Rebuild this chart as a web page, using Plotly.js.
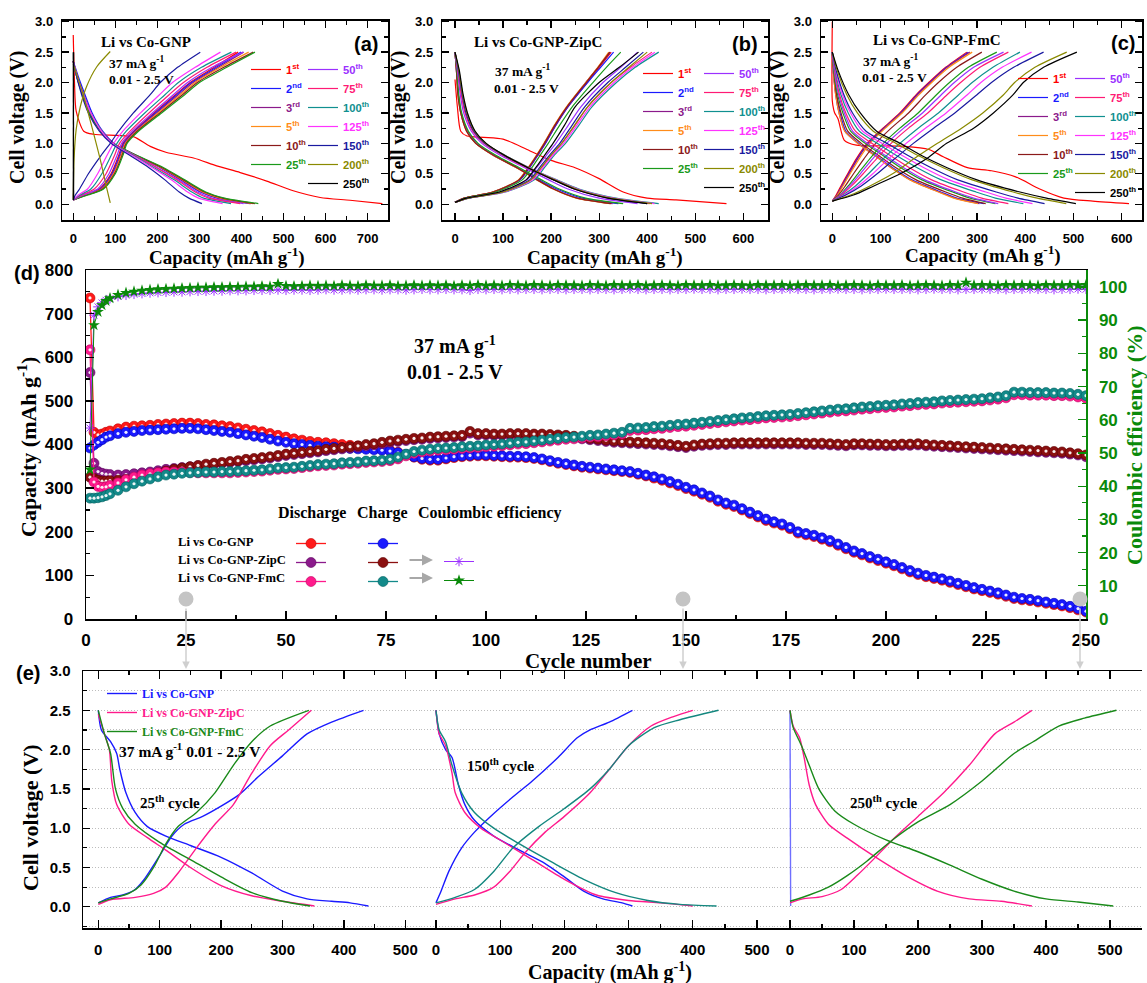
<!DOCTYPE html>
<html><head><meta charset="utf-8">
<script src="https://cdn.plot.ly/plotly-3.0.1.min.js"></script>
<style>html,body{margin:0;padding:0;background:#fff}#chart{width:1147px;height:983px}</style>
</head><body><div id="chart"></div>
<script>
// ---------------- DATA ----------------
const cycleNames = ['1<sup>st</sup>','2<sup>nd</sup>','3<sup>rd</sup>','5<sup>th</sup>','10<sup>th</sup>','25<sup>th</sup>','50<sup>th</sup>','75<sup>th</sup>','100<sup>th</sup>','125<sup>th</sup>','150<sup>th</sup>','200<sup>th</sup>','250<sup>th</sup>'];

// Panel (a) Li vs Co-GNP
const aDisGrid = [2.35, 2.1, 1.8, 1.5, 1.2, 1.0, 0.8, 0.6, 0.4, 0.2, 0.1, 0.01];
const aChgGrid = [0.07, 0.15, 0.25, 0.5, 0.8, 1.0, 1.2, 1.5, 1.8, 2.0, 2.25, 2.5];
const a1DisV = [2.78, 2.0, 1.53, 1.2, 1.15, 1.13, 1.11, 0.95, 0.85, 0.76, 0.63, 0.52, 0.38, 0.22, 0.11, 0.065, 0.01];
const a200DisV = [2.3, 2.2, 1.95, 1.77, 1.28, 0.74, 0.25, 0.02];
const a200ChgV = [0.08, 0.74, 1.23, 1.61, 1.94, 2.26, 2.51];
const a250DisV = [2.5, 0.07];
const a250ChgV = [0.07, 2.5];
const aDisCap = [
  [0, 3, 7, 25, 48, 104, 143, 183, 222, 286, 341, 397, 460, 523, 587, 658, 735],
  [0, 12, 28, 45, 70, 97, 150, 207, 255, 302, 342, 420],
  [0, 10, 25, 42, 68, 96, 150, 208, 257, 305, 345, 423],
  [0, 9, 23, 40, 67, 95, 150, 210, 260, 308, 350, 428],
  [0, 8, 22, 38, 65, 94, 150, 212, 262, 312, 355, 432],
  [0, 8, 22, 38, 66, 95, 152, 215, 265, 315, 360, 440],
  [0, 9, 24, 42, 68, 94, 147, 200, 250, 295, 330, 405],
  [0, 9, 24, 42, 68, 94, 146, 198, 246, 290, 322, 397],
  [0, 9, 24, 42, 68, 93, 143, 192, 240, 282, 310, 375],
  [0, 9, 24, 42, 67, 92, 140, 188, 233, 272, 298, 355],
  [0, 8, 20, 36, 62, 90, 135, 180, 218, 252, 275, 306],
  [0, 5, 17, 25, 44, 64, 80, 88],
  [0, 1]
];
const aChgCap = [
  [0, 25, 62, 90, 108, 118, 144, 192, 243, 278, 335, 392],
  [0, 27, 64, 92, 110, 120, 146, 195, 246, 281, 340, 399],
  [0, 28, 66, 94, 112, 122, 148, 198, 250, 285, 345, 405],
  [0, 30, 68, 96, 114, 124, 150, 202, 255, 290, 350, 417],
  [0, 32, 70, 98, 116, 126, 152, 206, 260, 295, 358, 428],
  [0, 35, 72, 100, 118, 128, 155, 210, 265, 300, 365, 432],
  [0, 24, 58, 85, 104, 115, 140, 188, 238, 272, 330, 404],
  [0, 20, 50, 78, 98, 110, 135, 180, 228, 262, 318, 387],
  [0, 16, 42, 68, 90, 104, 126, 170, 218, 250, 305, 376],
  [0, 12, 34, 58, 80, 96, 118, 160, 205, 236, 290, 350],
  [0, 5, 15, 36, 66, 88, 108, 143, 183, 207, 248, 302],
  [0, 2, 7, 17, 32, 56, 88],
  [0, 1]
];

// Panel (b) Li vs Co-GNP-ZipC
const bDisGrid = [2.5, 2.2, 1.8, 1.5, 1.2, 1.0, 0.8, 0.6, 0.4, 0.25, 0.1, 0.01];
const bChgGrid = [0.03, 0.1, 0.2, 0.4, 0.6, 0.8, 1.0, 1.3, 1.6, 2.0, 2.25, 2.5];
const b1DisV = [2.05, 1.6, 1.2, 1.12, 1.1, 1.07, 0.9, 0.72, 0.6, 0.42, 0.2, 0.1, 0.07, 0.01];
const bDisCap = [
  [0, 5, 12, 25, 60, 100, 150, 200, 250, 300, 350, 400, 460, 565],
  [0, 3, 7, 13, 26, 45, 82, 130, 175, 212, 265, 340],
  [0, 3, 7, 12, 25, 44, 80, 128, 172, 206, 255, 328],
  [0, 3, 6, 12, 24, 43, 80, 128, 170, 204, 252, 323],
  [0, 3, 6, 12, 24, 43, 81, 129, 171, 205, 254, 325],
  [0, 4, 8, 14, 28, 48, 86, 134, 180, 217, 272, 350],
  [0, 5, 11, 18, 34, 56, 95, 145, 195, 235, 300, 380],
  [0, 6, 13, 21, 37, 60, 100, 150, 205, 248, 320, 405],
  [0, 7, 15, 24, 40, 63, 105, 155, 212, 258, 335, 424],
  [0, 7, 15, 24, 40, 63, 104, 154, 210, 255, 330, 415],
  [0, 7, 15, 23, 39, 62, 102, 152, 206, 250, 320, 400],
  [0, 8, 16, 25, 41, 64, 104, 153, 208, 252, 325, 410],
  [0, 9, 17, 26, 42, 65, 104, 152, 205, 248, 318, 400]
];
const bChgCap = [
  [0, 20, 80, 135, 155, 172, 188, 210, 235, 275, 300, 325],
  [0, 20, 80, 135, 155, 172, 188, 210, 235, 276, 303, 330],
  [0, 19, 78, 133, 153, 170, 186, 208, 233, 272, 298, 323],
  [0, 19, 78, 132, 152, 169, 185, 207, 232, 272, 297, 320],
  [0, 19, 79, 133, 153, 170, 186, 208, 233, 273, 298, 322],
  [0, 22, 85, 140, 160, 177, 194, 218, 244, 287, 315, 345],
  [0, 25, 95, 150, 170, 190, 210, 236, 262, 308, 345, 380],
  [0, 28, 100, 158, 180, 200, 222, 250, 276, 325, 365, 410],
  [0, 30, 105, 165, 186, 206, 230, 258, 285, 336, 375, 424],
  [0, 29, 103, 162, 183, 203, 226, 254, 281, 331, 370, 416],
  [0, 27, 98, 155, 176, 196, 218, 244, 270, 318, 355, 392],
  [0, 28, 100, 158, 179, 199, 222, 249, 276, 325, 362, 400],
  [0, 24, 92, 148, 168, 186, 204, 228, 250, 300, 342, 382]
];

// Panel (c) Li vs Co-GNP-FmC
const cDisGrid = [2.5, 2.2, 1.8, 1.5, 1.2, 1.0, 0.8, 0.6, 0.4, 0.2, 0.1, 0.01];
const cChgGrid = [0.05, 0.15, 0.3, 0.5, 0.75, 1.0, 1.25, 1.5, 1.8, 2.0, 2.25, 2.5];
const c1DisV = [3.0, 1.7, 1.55, 1.5, 1.4, 1.05, 0.97, 0.96, 0.95, 0.9, 0.78, 0.6, 0.55, 0.45, 0.25, 0.1, 0.05, 0.01];
const cDisCap = [
  [0, 0, 3, 5, 12, 25, 50, 100, 150, 200, 230, 280, 330, 380, 430, 480, 540, 615],
  [0, 2, 8, 16, 28, 55, 90, 125, 165, 225, 258, 314],
  [0, 2, 7, 14, 26, 53, 88, 122, 162, 222, 255, 305],
  [0, 2, 7, 14, 26, 53, 88, 122, 161, 220, 252, 302],
  [0, 3, 9, 18, 32, 60, 96, 132, 174, 235, 270, 318],
  [0, 3, 11, 22, 38, 68, 105, 142, 186, 250, 286, 338],
  [0, 4, 13, 25, 42, 73, 110, 148, 192, 256, 293, 344],
  [0, 5, 15, 28, 48, 82, 120, 160, 206, 272, 310, 365],
  [0, 6, 18, 33, 56, 93, 133, 176, 226, 298, 338, 396],
  [0, 7, 21, 38, 63, 103, 145, 190, 242, 318, 360, 415],
  [0, 8, 24, 42, 70, 113, 157, 205, 260, 340, 385, 440],
  [0, 10, 30, 52, 85, 132, 178, 230, 290, 375, 425, 485],
  [0, 12, 34, 58, 92, 141, 185, 238, 300, 389, 444, 505]
];
const cChgCap = [
  [0, 8, 18, 32, 50, 72, 105, 140, 174, 200, 235, 279],
  [0, 10, 20, 34, 52, 74, 107, 142, 176, 202, 237, 282],
  [0, 10, 21, 35, 53, 75, 108, 143, 177, 203, 238, 285],
  [0, 11, 22, 37, 56, 78, 110, 145, 180, 206, 242, 290],
  [0, 13, 27, 44, 66, 90, 122, 158, 194, 220, 258, 310],
  [0, 16, 33, 53, 78, 106, 140, 178, 216, 243, 282, 341],
  [0, 17, 36, 58, 84, 113, 148, 187, 226, 253, 293, 355],
  [0, 19, 40, 64, 92, 122, 158, 198, 238, 266, 306, 365],
  [0, 22, 48, 75, 106, 140, 178, 220, 262, 290, 333, 389],
  [0, 25, 54, 84, 117, 153, 193, 236, 280, 308, 352, 413],
  [0, 28, 60, 93, 130, 168, 210, 254, 300, 330, 376, 438],
  [0, 38, 78, 125, 170, 218, 268, 312, 355, 378, 420, 486],
  [0, 44, 86, 141, 196, 237, 293, 334, 375, 396, 438, 507]
];

// Panel (d) cycling
const cyc = [1,2,3,4,5,6,8,10,12,14,16,18,20,22,24,26,28,30,32,34,36,38,40,42,44,46,48,50,52,54,56,58,60,62,64,66,68,70,72,74,76,78,80,82,84,86,88,90,92,94,96,98,100,102,104,106,108,110,112,114,116,118,120,122,124,126,128,130,132,134,136,138,140,142,144,146,148,150,152,154,156,158,160,162,164,166,168,170,172,174,176,178,180,182,184,186,188,190,192,194,196,198,200,202,204,206,208,210,212,214,216,218,220,222,224,226,228,230,232,234,236,238,240,242,244,246,248,250];
const gnpDischarge = [736,428,422,424,428,431,
 436,440,442,443,444,446,447,448,449,449,
 448,446,445,443,441,438,435,432,429,425,
 421,417,413,410,407,405,404,402,400,398,
 396,394,392,390,387,382,377,371,366,364,
 364,367,370,372,373,374,374,373,372,371,
 371,370,368,365,361,357,354,351,348,346,
 344,342,340,338,336,332,328,323,318,312,
 306,299,293,286,279,270,263,258,250,242,
 234,226,220,215,207,197,193,189,183,177,
 169,161,153,147,140,134,128,122,115,108,
 102,97,93,89,84,79,74,69,65,61,
 57,52,47,44,42,39,36,33,30,26,
 21,16];
const gnpCharge = [392,399,405,411,417,420,
 425,428,430,432,433,434,435,436,437,437,
 436,434,432,430,428,425,422,419,416,412,
 408,405,402,400,398,396,395,394,392,391,
 390,389,388,387,385,381,377,372,368,366,
 366,369,372,374,375,376,376,375,374,373,
 373,372,370,367,363,359,356,353,350,348,
 346,344,342,340,338,334,330,326,321,315,
 309,302,296,289,282,273,266,261,253,245,
 237,229,223,218,210,200,196,192,186,180,
 172,164,156,150,143,137,131,125,118,111,
 105,100,96,92,87,82,77,72,68,64,
 60,55,50,47,45,42,39,36,33,29,
 24,18];
const zipDischarge = [565,357,338,334,332,331,
 330,331,333,335,337,340,343,345,347,349,
 351,353,355,357,359,361,363,365,367,369,
 372,375,377,379,381,383,386,388,390,392,
 394,397,399,402,405,407,409,411,412,414,
 415,416,417,418,426,422,422,421,421,422,
 422,422,421,421,420,419,418,416,413,411,
 409,407,405,404,403,402,401,400,399,397,
 395,393,396,398,399,400,400,401,401,401,
 401,401,401,401,401,401,400,400,400,399,
 398,397,399,399,398,398,397,397,398,398,
 399,397,396,395,394,393,392,391,390,389,
 388,387,386,385,384,383,382,381,380,378,
 376,372];
const zipCharge = [325,322,318,316,316,317,
 318,320,323,327,331,335,339,343,346,349,
 352,355,357,359,361,363,366,368,370,372,
 375,378,380,382,384,386,389,391,393,395,
 397,400,402,405,408,410,412,414,415,417,
 418,419,420,421,430,425,425,424,424,425,
 425,425,424,424,423,422,421,419,416,414,
 412,410,408,407,406,405,404,403,402,400,
 398,396,399,401,402,403,403,404,404,404,
 404,404,404,404,404,404,403,403,403,402,
 401,400,402,402,401,401,400,400,401,401,
 402,400,399,398,397,396,395,394,393,392,
 391,390,389,388,387,386,385,384,383,381,
 379,376];
const fmcDischarge = [617,314,304,302,303,306,
 312,319,325,330,333,335,337,337,337,336,
 335,335,335,335,335,336,337,338,339,341,
 343,344,345,347,349,351,352,353,355,356,
 357,359,360,361,363,367,374,380,383,385,
 387,388,389,391,392,393,395,396,397,399,
 401,402,404,406,408,410,412,413,415,417,
 418,420,422,424,432,433,434,436,437,439,
 441,442,444,446,448,450,452,454,456,457,
 459,461,462,463,464,466,468,470,472,474,
 476,477,479,481,482,484,485,486,488,489,
 491,492,493,495,496,497,498,499,500,502,
 504,507,514,514,513,513,513,512,512,511,
 509,506];
const fmcCharge = [277,277,278,280,283,287,
 295,303,310,316,321,326,330,332,334,335,
 336,337,337,338,338,339,340,341,342,344,
 346,347,348,350,352,354,355,356,358,359,
 360,362,363,364,366,371,378,384,387,389,
 391,392,393,395,396,397,399,400,401,403,
 405,406,408,410,412,414,416,417,419,421,
 422,424,426,428,437,438,439,441,442,444,
 446,447,449,451,453,455,457,459,461,462,
 464,466,467,468,469,471,473,475,477,479,
 481,482,484,486,487,489,490,491,493,494,
 496,497,498,500,501,502,503,504,505,507,
 509,512,520,520,519,519,519,518,518,517,
 515,512];
const zipCE = [57.5,91.5,94.0,95.2,96.0,96.5,
 97.1,97.5,97.8,98.0,98.2,98.3,98.4,98.5,98.5,98.6,
 98.7,98.7,98.8,98.8,98.9,98.9,98.9,99.0,99.0,99.0,
 99.1,99.0,99.1,99.1,99.0,99.1,99.2,99.1,99.1,99.2,
 99.1,99.2,99.2,99.1,99.2,99.2,99.1,99.2,99.3,99.2,
 99.2,99.3,99.2,99.2,99.0,99.3,99.2,99.3,99.2,99.3,
 99.2,99.3,99.3,99.2,99.3,99.3,99.2,99.3,99.3,99.2,
 99.3,99.3,99.2,99.3,99.4,99.3,99.2,99.3,99.3,99.2,
 99.3,99.3,99.4,99.3,99.3,99.2,99.3,99.3,99.4,99.3,
 99.3,99.2,99.3,99.3,99.4,99.3,99.3,99.2,99.3,99.3,
 99.4,99.3,99.3,99.2,99.3,99.3,99.4,99.3,99.3,99.3,
 99.2,99.3,99.4,99.3,99.3,99.2,99.3,99.3,99.4,99.3,
 99.3,99.2,99.3,99.3,99.4,99.3,99.3,99.2,99.3,99.3,
 99.4,99.3];
const fmcCE = [45.0,88.5,92.5,94.5,95.8,96.6,
 97.6,98.2,98.6,98.9,99.1,99.3,99.4,99.5,99.6,99.7,
 99.8,99.8,99.9,99.9,100.0,100.0,100.1,100.1,100.2,100.1,
 100.9,100.3,100.2,100.3,100.4,100.3,100.4,100.3,100.5,100.4,
 100.3,100.5,100.4,100.4,100.5,100.3,100.4,100.5,100.4,100.5,
 100.4,100.5,100.3,100.5,100.4,100.6,100.4,100.5,100.4,100.6,
 100.5,100.4,100.6,100.5,100.4,100.6,100.5,100.5,100.4,100.6,
 100.5,100.4,100.6,100.5,100.5,100.6,100.4,100.5,100.6,100.5,
 100.4,100.6,100.5,100.5,100.6,100.4,100.5,100.6,100.5,100.4,
 100.6,100.5,100.5,100.6,100.4,100.5,100.6,100.5,100.5,100.6,
 100.4,100.5,100.6,100.5,100.4,100.6,100.5,100.5,100.6,100.4,
 100.5,100.6,100.5,100.4,100.6,100.5,101.3,100.5,100.6,100.5,
 100.4,100.6,100.5,100.6,100.5,100.4,100.6,100.5,100.5,100.6,
 100.5,100.6];

// Panel (e) selected cycles: capacity / voltage pairs
const e25GnpDisC = [0, 5, 20, 30, 35, 45, 60, 80, 110, 150, 200, 250, 300, 340, 380, 410, 440];
const e25GnpDisV = [2.5, 2.25, 2.1, 1.95, 1.75, 1.45, 1.2, 1.02, 0.9, 0.78, 0.63, 0.43, 0.2, 0.1, 0.07, 0.05, 0.01];
const e25GnpChgC = [0, 20, 40, 60, 75, 100, 120, 140, 170, 200, 230, 260, 300, 340, 380, 432];
const e25GnpChgV = [0.05, 0.12, 0.15, 0.22, 0.35, 0.65, 0.9, 1.05, 1.15, 1.28, 1.43, 1.65, 1.92, 2.2, 2.35, 2.5];
const e25ZipDisC = [0, 10, 18, 22, 30, 50, 80, 110, 150, 200, 250, 300, 352];
const e25ZipDisV = [2.45, 2.2, 2.0, 1.6, 1.3, 1.05, 0.88, 0.72, 0.5, 0.27, 0.14, 0.07, 0.01];
const e25ZipChgC = [0, 20, 60, 90, 110, 130, 160, 190, 220, 250, 280, 310, 347];
const e25ZipChgV = [0.03, 0.09, 0.12, 0.17, 0.25, 0.43, 0.75, 1.05, 1.3, 1.7, 2.05, 2.25, 2.5];
const e25FmcDisC = [0, 10, 20, 28, 40, 60, 100, 150, 200, 250, 300, 345];
const e25FmcDisV = [2.5, 2.2, 1.95, 1.5, 1.25, 1.05, 0.82, 0.6, 0.38, 0.18, 0.07, 0.01];
const e25FmcChgC = [0, 20, 50, 70, 90, 110, 130, 160, 190, 220, 250, 280, 343];
const e25FmcChgV = [0.05, 0.1, 0.17, 0.28, 0.5, 0.8, 1.02, 1.2, 1.45, 1.8, 2.1, 2.3, 2.5];

const e150GnpDisC = [0, 5, 15, 25, 35, 45, 60, 90, 130, 170, 200, 230, 260, 290, 306];
const e150GnpDisV = [2.5, 2.2, 2.0, 1.9, 1.55, 1.3, 1.1, 0.9, 0.72, 0.55, 0.38, 0.2, 0.1, 0.05, 0.01];
const e150GnpChgC = [0, 8, 20, 40, 60, 85, 120, 150, 190, 220, 240, 270, 306];
const e150GnpChgV = [0.05, 0.2, 0.45, 0.75, 0.95, 1.15, 1.4, 1.6, 1.9, 2.15, 2.25, 2.35, 2.5];
const e150ZipDisC = [0, 5, 15, 25, 30, 45, 70, 100, 150, 200, 250, 300, 350, 400];
const e150ZipDisV = [2.5, 2.2, 2.05, 1.7, 1.45, 1.2, 1.0, 0.85, 0.6, 0.35, 0.15, 0.08, 0.05, 0.01];
const e150ZipChgC = [0, 30, 60, 90, 115, 140, 170, 200, 240, 270, 300, 335, 370, 400];
const e150ZipChgV = [0.03, 0.1, 0.15, 0.25, 0.45, 0.7, 0.95, 1.15, 1.45, 1.75, 2.05, 2.3, 2.42, 2.5];
const e150FmcDisC = [0, 5, 15, 25, 40, 60, 90, 130, 180, 230, 280, 330, 380, 437];
const e150FmcDisV = [2.5, 2.25, 2.1, 1.8, 1.45, 1.2, 1.0, 0.8, 0.57, 0.35, 0.18, 0.08, 0.03, 0.01];
const e150FmcChgC = [0, 30, 60, 90, 120, 160, 200, 240, 270, 300, 340, 380, 440];
const e150FmcChgV = [0.05, 0.12, 0.22, 0.45, 0.75, 1.02, 1.25, 1.5, 1.75, 2.05, 2.28, 2.38, 2.5];

const e250GnpDisC = [0, 1];
const e250GnpDisV = [2.5, 0.01];
const e250ZipDisC = [0, 5, 15, 22, 30, 40, 60, 90, 130, 180, 230, 280, 330, 378];
const e250ZipDisV = [2.5, 2.3, 2.15, 1.9, 1.55, 1.3, 1.05, 0.87, 0.65, 0.4, 0.2, 0.1, 0.07, 0.01];
const e250ZipChgC = [0, 20, 50, 80, 105, 130, 160, 200, 240, 280, 320, 350, 378];
const e250ZipChgV = [0.05, 0.1, 0.13, 0.22, 0.4, 0.6, 0.85, 1.15, 1.45, 1.8, 2.2, 2.35, 2.5];
const e250FmcDisC = [0, 5, 18, 30, 45, 70, 100, 150, 200, 250, 300, 350, 400, 450, 505];
const e250FmcDisV = [2.5, 2.28, 2.05, 1.8, 1.5, 1.22, 1.05, 0.85, 0.7, 0.53, 0.35, 0.2, 0.1, 0.06, 0.01];
const e250FmcChgC = [0, 30, 60, 90, 120, 160, 200, 250, 300, 350, 380, 420, 460, 510];
const e250FmcChgV = [0.07, 0.15, 0.25, 0.4, 0.58, 0.85, 1.08, 1.3, 1.6, 1.95, 2.1, 2.3, 2.4, 2.5];

// ---------------- STYLE ----------------
const W = 1147, H = 983;
const SERIF = '"Liberation Serif","Times New Roman",serif';
const SANS = '"Liberation Sans",Arial,sans-serif';
const cycleColors = ['#ff0000','#1a1aff','#8b1a8b','#ff8c1a','#8b1a1a','#1a9a1a','#9b30ff','#ff1a75','#109090','#ff33ff','#1a1aa0','#8a8a00','#000000'];
const PX = x => x / W, PY = y => 1 - y / H;

const traces = [];

function cyclePanel(xa, ya, disCap, disV, chgCap, chgV, leg1, leg2) {
  for (let i = 0; i < 13; i++) {
    traces.push({x: disCap[i], y: disV[i], xaxis: xa, yaxis: ya, mode: 'lines',
      line: {color: cycleColors[i], width: 1.2, shape: 'spline', smoothing: 0.7},
      name: '<span style="color:' + cycleColors[i] + '">' + cycleNames[i] + '</span>',
      legend: i < 6 ? leg1 : leg2, showlegend: true, hoverinfo: 'skip'});
    traces.push({x: chgCap[i], y: chgV[i], xaxis: xa, yaxis: ya, mode: 'lines',
      line: {color: cycleColors[i], width: 1.2, shape: 'spline', smoothing: 0.7},
      showlegend: false, hoverinfo: 'skip'});
  }
}
cyclePanel('x', 'y', aDisCap,
  [a1DisV, aDisGrid, aDisGrid, aDisGrid, aDisGrid, aDisGrid, aDisGrid, aDisGrid, aDisGrid, aDisGrid, aDisGrid, a200DisV, a250DisV],
  aChgCap,
  [aChgGrid, aChgGrid, aChgGrid, aChgGrid, aChgGrid, aChgGrid, aChgGrid, aChgGrid, aChgGrid, aChgGrid, aChgGrid, a200ChgV, a250ChgV],
  'legend', 'legend2');
cyclePanel('x2', 'y2', bDisCap,
  [b1DisV].concat(Array(12).fill(bDisGrid)), bChgCap, Array(13).fill(bChgGrid), 'legend3', 'legend4');
cyclePanel('x3', 'y3', cDisCap,
  [c1DisV].concat(Array(12).fill(cDisGrid)), cChgCap, Array(13).fill(cChgGrid), 'legend5', 'legend6');

// Panel (d)
function sphere(y, color, edge, legend, rank) {
  traces.push({x: cyc, y: y, xaxis: 'x4', yaxis: 'y4', mode: 'lines+markers',
    line: {color: color, width: 1.3},
    marker: {symbol: 'circle', size: 10, color: color, line: {color: edge, width: 0.6}},
    name: '', legend: legend, legendrank: rank, showlegend: true, hoverinfo: 'skip'});
  traces.push({x: cyc, y: y, xaxis: 'x4', yaxis: 'y4', mode: 'markers',
    marker: {symbol: 'circle', size: 3.2, color: 'rgba(255,255,255,0.92)'},
    showlegend: false, hoverinfo: 'skip'});
}
sphere(gnpDischarge, '#ff1a1a', '#c00000', 'legend7', 1);
sphere(gnpCharge, '#1a1aff', '#0000b0', 'legend8', 1);
sphere(zipDischarge, '#8b1a8b', '#5a005a', 'legend7', 2);
sphere(zipCharge, '#8b1010', '#5a0000', 'legend8', 2);
sphere(fmcDischarge, '#ff1a8c', '#c00060', 'legend7', 3);
sphere(fmcCharge, '#138a8a', '#006060', 'legend8', 3);
traces.push({x: cyc, y: zipCE, xaxis: 'x4', yaxis: 'y5', mode: 'lines+markers',
  line: {color: '#9b30ff', width: 1},
  marker: {symbol: 'asterisk-open', size: 8, color: '#9b30ff', line: {color: '#9b30ff', width: 1}},
  name: '', legend: 'legend9', legendrank: 1, showlegend: true, hoverinfo: 'skip'});
traces.push({x: cyc, y: fmcCE, xaxis: 'x4', yaxis: 'y5', mode: 'lines+markers',
  line: {color: '#0a8a0a', width: 1},
  marker: {symbol: 'star', size: 9, color: '#0a8a0a'},
  name: '', legend: 'legend9', legendrank: 2, showlegend: true, hoverinfo: 'skip'});

// Panel (e)
const eBlue = '#1a1aff', ePink = '#ff1a8c', eGreen = '#1a8a1a', eTeal = '#14877f';
function eLine(xa, c, v, color, leg, name, rank) {
  const t = {x: c, y: v, xaxis: xa, yaxis: 'y6', mode: 'lines',
    line: {color: color, width: 1.4, shape: 'spline', smoothing: 0.7}, hoverinfo: 'skip', showlegend: false};
  if (leg) { t.showlegend = true; t.legend = 'legend10'; t.name = name; t.legendrank = rank; }
  traces.push(t);
}
eLine('x5', e25GnpDisC, e25GnpDisV, eBlue, true, '<span style="color:#1a1aff">Li vs Co-GNP</span>', 1);
eLine('x5', e25GnpChgC, e25GnpChgV, eBlue);
eLine('x5', e25ZipDisC, e25ZipDisV, ePink, true, '<span style="color:#ff1a8c">Li vs Co-GNP-ZipC</span>', 2);
eLine('x5', e25ZipChgC, e25ZipChgV, ePink);
eLine('x5', e25FmcDisC, e25FmcDisV, eGreen, true, '<span style="color:#1a8a1a">Li vs Co-GNP-FmC</span>', 3);
eLine('x5', e25FmcChgC, e25FmcChgV, eGreen);
eLine('x6', e150GnpDisC, e150GnpDisV, eBlue);
eLine('x6', e150GnpChgC, e150GnpChgV, eBlue);
eLine('x6', e150ZipDisC, e150ZipDisV, ePink);
eLine('x6', e150ZipChgC, e150ZipChgV, ePink);
eLine('x6', e150FmcDisC, e150FmcDisV, eTeal);
eLine('x6', e150FmcChgC, e150FmcChgV, eTeal);
eLine('x7', e250GnpDisC, e250GnpDisV, '#6f6fff');
eLine('x7', e250ZipDisC, e250ZipDisV, ePink);
eLine('x7', e250ZipChgC, e250ZipChgV, ePink);
eLine('x7', e250FmcDisC, e250FmcDisV, eGreen);
eLine('x7', e250FmcChgC, e250FmcChgV, eGreen);

// ---------------- AXES ----------------
function tf(size, color) { return {family: SANS, size: size, color: color || '#000', weight: 'bold'}; }
function axis(o) {
  return Object.assign({showline: true, linecolor: '#000', linewidth: 1.5, ticks: 'inside', ticklen: 7,
    tickwidth: 1.3, tickcolor: '#000', showgrid: false, zeroline: false,
    tickprefix: '<b>', ticksuffix: '</b>', tickfont: tf(13)}, o);
}
const mn = (d, c) => ({ticks: 'inside', ticklen: 4, tickwidth: 1.2, tickcolor: c || '#000', dtick: d, showgrid: false});
const yTop = [PY(220), PY(20.5)];
const gridDots = {showgrid: true, gridcolor: '#bdbdbd', griddash: '1px,2px', gridwidth: 1};

const layout = {
  width: W, height: H, margin: {l: 0, r: 0, t: 0, b: 0, autoexpand: false},
  paper_bgcolor: '#fff', plot_bgcolor: 'rgba(0,0,0,0)', showlegend: true,
  xaxis: axis({domain: [PX(62.3), PX(388.3)], range: [-26, 749], dtick: 100, tick0: 0, mirror: 'ticks', minor: mn(50), anchor: 'y', ticklabelstandoff: 6}),
  yaxis: axis({domain: yTop, range: [-0.26, 3.02], dtick: 0.5, tick0: 0, tickformat: '.1f', mirror: 'ticks', minor: mn(0.25), anchor: 'x', ticklabelstandoff: 5}),
  xaxis2: axis({domain: [PX(442.3), PX(768.3)], range: [-26.4, 652], dtick: 100, tick0: 0, mirror: 'ticks', minor: mn(50), anchor: 'y2', ticklabelstandoff: 6}),
  yaxis2: axis({domain: yTop, range: [-0.26, 3.02], dtick: 0.5, tick0: 0, tickformat: '.1f', mirror: 'ticks', minor: mn(0.25), anchor: 'x2', ticklabelstandoff: 5}),
  xaxis3: axis({domain: [PX(821), PX(1142)], range: [-23.4, 642], dtick: 100, tick0: 0, mirror: 'ticks', minor: mn(50), anchor: 'y3', ticklabelstandoff: 6}),
  yaxis3: axis({domain: yTop, range: [-0.26, 3.02], dtick: 0.5, tick0: 0, tickformat: '.1f', mirror: 'ticks', minor: mn(0.25), anchor: 'x3', ticklabelstandoff: 5}),
  xaxis4: axis({domain: [PX(86), PX(1086)], range: [0, 250], dtick: 25, tick0: 0, mirror: true, ticklen: 8, anchor: 'y4',
    minor: mn(12.5), tickfont: tf(17), ticklabelstandoff: 5}),
  yaxis4: axis({domain: [PY(619), PY(270)], range: [0, 800], dtick: 100, tick0: 0, ticklen: 8, anchor: 'x4',
    minor: mn(50), tickfont: tf(17), ticklabelstandoff: 8}),
  yaxis5: axis({overlaying: 'y4', side: 'right', anchor: 'x4', range: [0, 105.1], dtick: 10, tick0: 0, ticklen: 8,
    linecolor: '#0a8a0a', tickcolor: '#0a8a0a', minor: mn(5, '#0a8a0a'),
    tickfont: tf(17, '#0a8a0a'), ticklabelstandoff: 8}),
  xaxis5: axis({domain: [PX(83), PX(420.5)], range: [-24.9, 524.8], dtick: 100, tick0: 0, mirror: 'ticks', ticklen: 8, anchor: 'y6',
    minor: mn(50), tickfont: tf(15), ticklabelstandoff: 7}),
  xaxis6: axis({domain: [PX(420.5), PX(773.5)], range: [-24.1, 525.7], dtick: 100, tick0: 0, mirror: 'ticks', ticklen: 8, anchor: 'y6',
    minor: mn(50), tickfont: tf(15), ticklabelstandoff: 7}),
  xaxis7: axis({domain: [PX(773.5), PX(1142)], range: [-25.8, 550], dtick: 100, tick0: 0, mirror: 'ticks', ticklen: 8, anchor: 'y6',
    minor: mn(50), tickfont: tf(15), ticklabelstandoff: 7}),
  yaxis6: axis(Object.assign({domain: [PY(928), PY(671)], range: [-0.27, 3.0], dtick: 0.5, tick0: 0, tickformat: '.1f', ticklen: 7, anchor: 'x5',
    minor: Object.assign({ticks: 'inside', ticklen: 4, tickwidth: 1.2, tickcolor: '#000', dtick: 0.25}, gridDots),
    tickfont: tf(15), ticklabelstandoff: 8}, gridDots)),
  yaxis7: {overlaying: 'y6', side: 'right', anchor: 'x7', range: [-0.27, 3.0], showline: true, linecolor: '#000', linewidth: 1.5,
    ticks: '', showticklabels: false, showgrid: false, zeroline: false},
  annotations: [],
  shapes: []
};

// legends
function leg(xpx, ypx, font) {
  return {x: PX(xpx), y: PY(ypx), xanchor: 'left', yanchor: 'top', bgcolor: 'rgba(0,0,0,0)', borderwidth: 0,
    tracegroupgap: 0, itemwidth: 30, font: font, itemclick: false, itemdoubleclick: false};
}
const lf = {family: SANS, size: 11.2, color: '#000', weight: 'bold'};
const lfd = {family: SANS, size: 11, color: '#000', weight: 'bold'};
layout.legend = leg(246, 55, lf);
layout.legend2 = leg(303, 55, lf);
layout.legend3 = leg(638, 59, lf);
layout.legend4 = leg(699, 59, lf);
layout.legend5 = leg(1013, 64, lf);
layout.legend6 = leg(1070, 64, lf);
layout.legend7 = leg(291, 529, lfd);
layout.legend8 = leg(363, 529, lfd);
layout.legend9 = leg(439, 547, lfd);
layout.legend10 = leg(102, 679, {family: SERIF, size: 12, color: '#000', weight: 'bold'});

// annotations
function T(text, x, y, o) {
  return Object.assign({text: text, xref: 'paper', yref: 'paper', x: PX(x), y: PY(y), showarrow: false,
    xanchor: 'center', yanchor: 'middle', font: {family: SERIF, size: 14, color: '#000', weight: 'bold'}}, o || {});
}
const A = layout.annotations;
const sf = (s, c) => ({family: SERIF, size: s, color: c || '#000', weight: 'bold'});
const pf = {family: SANS, size: 20, color: '#000', weight: 'bold'};
// (a)
A.push(T('Li vs Co-GNP', 146, 42, {font: sf(15)}));
A.push(T('37 mA g<sup>-1</sup>', 107, 62, {xanchor: 'left', font: sf(13.5)}));
A.push(T('0.01 - 2.5 V', 107, 79, {xanchor: 'left', font: sf(13.5)}));
A.push(T('(a)', 366, 44, {font: pf}));
A.push(T('Cell voltage (V)', 18, 118, {textangle: -90, font: sf(20)}));
A.push(T('Capacity (mAh g<sup>-1</sup>)', 227, 256, {font: sf(19)}));
// (b)
A.push(T('Li vs Co-GNP-ZipC', 538, 42, {font: sf(15)}));
A.push(T('37 mA g<sup>-1</sup>', 493, 70, {xanchor: 'left', font: sf(13.5)}));
A.push(T('0.01 - 2.5 V', 492, 88, {xanchor: 'left', font: sf(13.5)}));
A.push(T('(b)', 745, 44, {font: pf}));
A.push(T('Cell voltage (V)', 399, 118, {textangle: -90, font: sf(20)}));
A.push(T('Capacity (mAh g<sup>-1</sup>)', 605, 256, {font: sf(19)}));
// (c)
A.push(T('Li vs Co-GNP-FmC', 937, 40, {font: sf(15)}));
A.push(T('37 mA g<sup>-1</sup>', 861, 60, {xanchor: 'left', font: sf(13.5)}));
A.push(T('0.01 - 2.5 V', 860, 78, {xanchor: 'left', font: sf(13.5)}));
A.push(T('(c)', 1123, 43, {font: pf}));
A.push(T('Cell voltage (V)', 778, 118, {textangle: -90, font: sf(20)}));
A.push(T('Capacity (mAh g<sup>-1</sup>)', 983, 254, {font: sf(19)}));
// (d)
A.push(T('(d)', 27, 273, {font: pf}));
A.push(T('Capacity (mAh g<sup>-1</sup>)', 27, 447, {textangle: -90, font: sf(22)}));
A.push(T('Coulombic efficiency (%)', 1134, 445, {textangle: -90, font: sf(22, '#0a8a0a')}));
A.push(T('Cycle number', 588, 661, {font: sf(21)}));
A.push(T('37 mA g<sup>-1</sup>', 455, 345, {font: sf(20)}));
A.push(T('0.01 - 2.5 V', 455, 372, {font: sf(20)}));
A.push(T('Discharge', 312, 513, {font: sf(16)}));
A.push(T('Charge', 382, 513, {font: sf(16)}));
A.push(T('Coulombic efficiency', 490, 513, {font: sf(16)}));
A.push(T('Li vs Co-GNP', 176, 542, {xanchor: 'left', font: sf(12.6)}));
A.push(T('Li vs Co-GNP-ZipC', 176, 560, {xanchor: 'left', font: sf(12.6)}));
A.push(T('Li vs Co-GNP-FmC', 176, 578, {xanchor: 'left', font: sf(12.6)}));
// gray legend arrows
[560, 578].forEach(yy => A.push({xref: 'paper', yref: 'paper', x: PX(433), y: PY(yy), ax: -25, ay: 0, text: '',
  showarrow: true, arrowhead: 2, arrowsize: 1.1, arrowwidth: 2, arrowcolor: '#a8a8a8'}));
// gray pointer arrows to panel (e)
[186, 683, 1080].forEach(xx => A.push({xref: 'paper', yref: 'paper', x: PX(xx), y: PY(669), ax: 0, ay: -62, text: '',
  showarrow: true, arrowhead: 2, arrowsize: 1, arrowwidth: 1.5, arrowcolor: '#cfcfcf'}));
[186, 683, 1080].forEach(xx => layout.shapes.push({type: 'circle', xref: 'paper', yref: 'paper',
  x0: PX(xx - 7.5), x1: PX(xx + 7.5), y0: PY(599 + 7.5), y1: PY(599 - 7.5), fillcolor: '#c4c4c4', line: {width: 0}}));
// (e)
A.push(T('(e)', 28, 673, {font: pf}));
A.push(T('Cell voltage (V)', 30, 818, {textangle: -90, font: sf(22)}));
A.push(T('Capacity (mAh g<sup>-1</sup>)', 610, 971, {font: sf(20)}));
A.push(T('37 mA g<sup>-1</sup> 0.01 - 2.5 V', 117, 750, {xanchor: 'left', font: sf(15.5)}));
A.push(T('25<sup>th</sup> cycle', 138, 802, {xanchor: 'left', font: sf(15)}));
A.push(T('150<sup>th</sup> cycle', 465, 765, {xanchor: 'left', font: sf(15)}));
A.push(T('250<sup>th</sup> cycle', 848, 802, {xanchor: 'left', font: sf(15)}));

Plotly.newPlot('chart', traces, layout, {staticPlot: true});
</script></body></html>
